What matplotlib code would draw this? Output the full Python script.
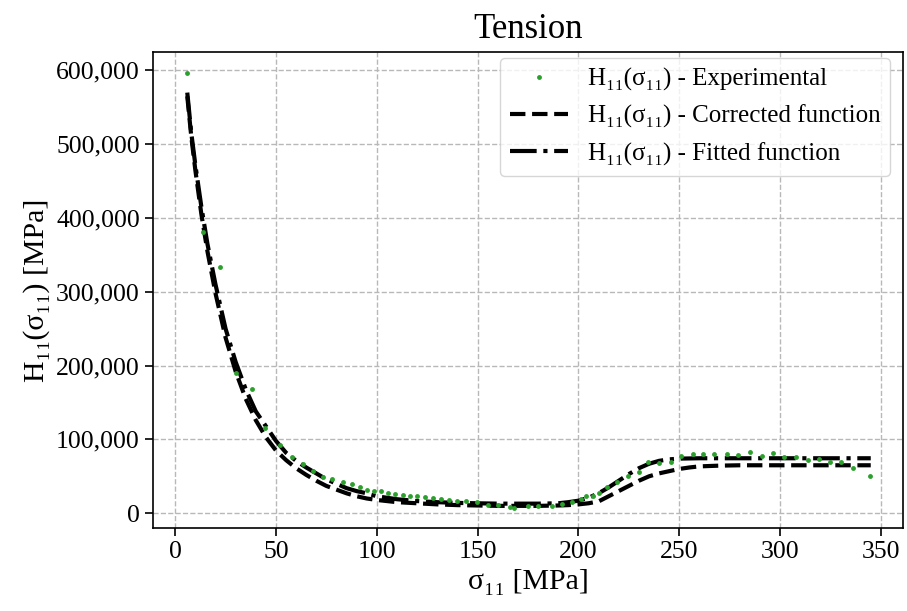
import matplotlib
import matplotlib.pyplot as plt
from matplotlib.ticker import StrMethodFormatter

matplotlib.use('Agg')

# Experimental points
exp_x = [5.8, 13.6, 22, 30, 38, 44.5, 52, 58, 63.5, 68.5, 73.5, 78, 83, 87.5, 91.5,
         95, 98.5, 102, 105.5, 109, 113, 116.5, 120, 124, 128, 132, 136, 140, 144,
         149.5, 155, 160, 166, 168, 175, 180, 187, 192, 197, 201.5, 204, 207, 210,
         214, 219, 224.5, 230, 234.5, 240, 246, 251, 257, 262, 267.5, 273.5, 279,
         285, 291, 296.5, 302, 308, 314, 319.5, 325, 330, 336, 344.5]
exp_y = [596, 381, 333, 190, 169, 115, 92, 76, 67, 57, 49, 46, 42, 39, 35,
         32, 30, 30, 28, 26, 25, 24, 23, 22, 20, 19, 18, 17, 16,
         15, 11, 11, 9, 7, 9.5, 9.5, 9.5, 13, 15, 19, 24, 24, 28,
         35, 42, 50, 56, 69, 68, 70, 77, 80, 80, 80, 80, 79,
         83, 77, 81, 76, 76, 72, 74, 69, 69, 61, 50]

# Corrected function
cor_x = [6, 8, 10, 13, 16, 20, 25, 30, 35, 40, 45, 50, 55, 60, 65, 70, 75, 80, 85,
         90, 95, 100, 110, 120, 130, 140, 150, 160, 170, 180, 190, 195, 200, 205,
         210, 215, 220, 225, 230, 235, 240, 245, 250, 255, 260, 270, 280, 300, 320, 345]
cor_y = [565, 510, 465, 405, 355, 298, 238, 192, 155, 126, 103, 85, 72, 61, 52, 44,
         37, 32, 27, 23, 20, 18, 15, 13.5, 12, 11, 10.5, 10, 10, 10, 10.5, 11, 12,
         13.5, 16, 23, 30, 37, 44, 50, 54, 57, 60, 62, 63.5, 64.5, 65, 65, 65, 65]

# Fitted function
fit_x = [6, 8, 10, 13, 16, 20, 25, 30, 35, 40, 45, 50, 55, 60, 65, 70, 75, 80, 85,
         90, 95, 100, 110, 120, 130, 140, 150, 160, 170, 180, 190, 195, 200, 205,
         210, 215, 220, 225, 230, 235, 240, 245, 250, 260, 280, 300, 320, 345]
fit_y = [570, 515, 472, 415, 365, 310, 250, 205, 168, 138, 118, 98, 82, 71, 62, 54,
         46, 40, 34, 30, 27, 23, 19, 16.5, 15, 14, 13.5, 13, 13, 13, 13.5, 15, 17,
         21, 27, 35, 44, 53, 61, 67, 71, 73, 74, 74.5, 74.5, 74.5, 74.5, 74.5]

plt.rcParams['font.family'] = ['Liberation Serif', 'DejaVu Serif']

fig = plt.figure(figsize=(9.07, 6.11), dpi=100)
ax = fig.add_axes([153 / 907, 1 - 528 / 611, 750 / 907, 476 / 611])

ax.plot(exp_x, [v * 1000 for v in exp_y], 'o', color='tab:green', markersize=3.5,
        markeredgewidth=0, label='H₁₁(σ₁₁) - Experimental', zorder=3)
ax.plot(cor_x, [v * 1000 for v in cor_y], linestyle='--', color='black', linewidth=3,
        label='H₁₁(σ₁₁) - Corrected function')
ax.plot(fit_x, [v * 1000 for v in fit_y], linestyle='-.', color='black', linewidth=3,
        label='H₁₁(σ₁₁) - Fitted function')

ax.set_xlim(-11, 361)
ax.set_ylim(-20000, 625000)
ax.set_xticks(range(0, 351, 50))
ax.set_yticks(range(0, 600001, 100000))
ax.yaxis.set_major_formatter(StrMethodFormatter('{x:,.0f}'))
ax.tick_params(labelsize=18.5, length=6, width=1.2)

ax.grid(True, linestyle='--', color='#b8b8b8', linewidth=1)
ax.set_axisbelow(True)
for s in ax.spines.values():
    s.set_linewidth(1.2)

ax.set_xlabel('σ₁₁ [MPa]', fontsize=21.5)
ax.set_ylabel('H₁₁(σ₁₁) [MPa]', fontsize=21.5)
ax.set_title('Tension', fontsize=25, pad=10)

ax.legend(loc='upper right', bbox_to_anchor=(0.983, 0.987), borderaxespad=0,
          fontsize=18, handlelength=2.3, handletextpad=0.8, labelspacing=0.55)

fig.savefig('out.png', dpi=100)
